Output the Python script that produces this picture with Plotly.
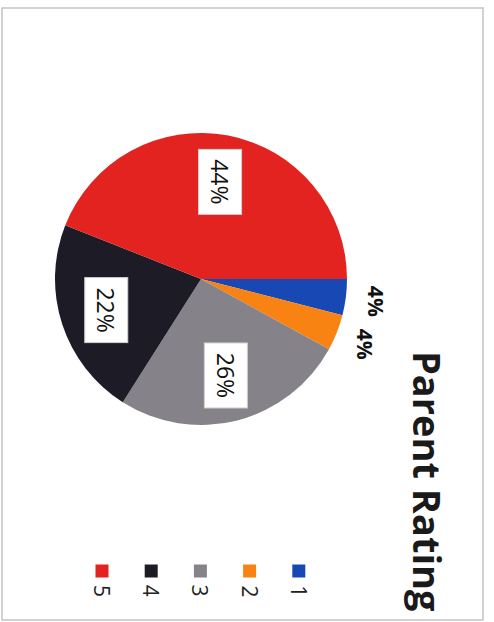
import math
import plotly.graph_objects as go

# Survey results: share of parents giving each rating
ratings = ["1", "2", "3", "4", "5"]
shares = [4, 4, 26, 22, 44]
share_labels = ["4%", "4%", "26%", "22%", "44%"]
colors = ["#1748b4", "#f98312", "#85828a", "#1d1c26", "#e2231f"]
title_text = "Parent Rating"

W, H = 494, 622
CX, CY, R = 201, 279, 146          # pie centre and radius, pixels
FONT = "Open Sans, Lato, sans-serif"


def px(x):
    return x / W


def py(y):
    return 1 - y / H


fig = go.Figure(
    go.Pie(
        labels=ratings,
        values=shares,
        sort=False,
        direction="clockwise",
        rotation=90,
        marker=dict(colors=colors, line=dict(width=0)),
        textinfo="none",
        hoverinfo="label+percent",
        showlegend=False,
        domain=dict(x=[px(CX - R), px(CX + R)], y=[py(CY + R), py(CY - R)]),
    )
)

annotations = []
shapes = []

# Percentage labels placed at the middle angle of each slice
total = sum(shares)
start = 0.0
for value, text in zip(shares, share_labels):
    span = value / total * 360.0
    mid = math.radians(start + span / 2)
    start += span
    small = value / total < 0.1
    r = R * (1.21 if small else 0.68)
    x = CX + r * math.cos(mid)
    y = CY + r * math.sin(mid)
    if small:
        annotations.append(dict(
            x=px(x), y=py(y), xref="paper", yref="paper",
            text=f"<b>{text}</b>", showarrow=False, textangle=90,
            xanchor="center", yanchor="middle",
            font=dict(family=FONT, size=21, color="#111111"),
        ))
    else:
        annotations.append(dict(
            x=px(x), y=py(y), xref="paper", yref="paper",
            text=text, showarrow=False, textangle=90,
            xanchor="center", yanchor="middle",
            width=62, height=40, align="center", valign="middle",
            bgcolor="#ffffff", bordercolor="#d0d0d0", borderwidth=1,
            font=dict(family=FONT, size=23, color="#111111"),
        ))

# Legend: rotated keys, highest rating on the left
LEG_X0, LEG_DX, LEG_SQ_Y, LEG_TXT_Y, SQ = 102, 49.2, 571, 591, 13
for i, (lab, col) in enumerate(zip(reversed(ratings), reversed(colors))):
    cx = LEG_X0 + i * LEG_DX
    shapes.append(dict(
        type="rect", xref="paper", yref="paper",
        x0=px(cx - SQ / 2), x1=px(cx + SQ / 2),
        y0=py(LEG_SQ_Y + SQ / 2), y1=py(LEG_SQ_Y - SQ / 2),
        fillcolor=col, line=dict(width=0),
    ))
    annotations.append(dict(
        x=px(cx), y=py(LEG_TXT_Y), xref="paper", yref="paper",
        text=lab, showarrow=False, textangle=90,
        xanchor="center", yanchor="middle",
        font=dict(family=FONT, size=21, color="#222222"),
    ))

# Title, reading top to bottom
annotations.append(dict(
    x=px(428), y=py(481), xref="paper", yref="paper",
    text=f"<b>{title_text}</b>", showarrow=False, textangle=90,
    xanchor="center", yanchor="middle",
    font=dict(family=FONT, size=38, color="#1a1a1a"),
))

# Chart frame
shapes.append(dict(
    type="rect", xref="paper", yref="paper",
    x0=px(2), x1=px(483), y0=py(620), y1=py(8),
    line=dict(color="#c4c4c4", width=1.5), fillcolor="rgba(0,0,0,0)",
    layer="below",
))

fig.update_layout(
    width=W, height=H,
    margin=dict(l=0, r=0, t=0, b=0),
    paper_bgcolor="#ffffff",
    plot_bgcolor="#ffffff",
    annotations=annotations,
    shapes=shapes,
)

fig.write_html("out.html")
